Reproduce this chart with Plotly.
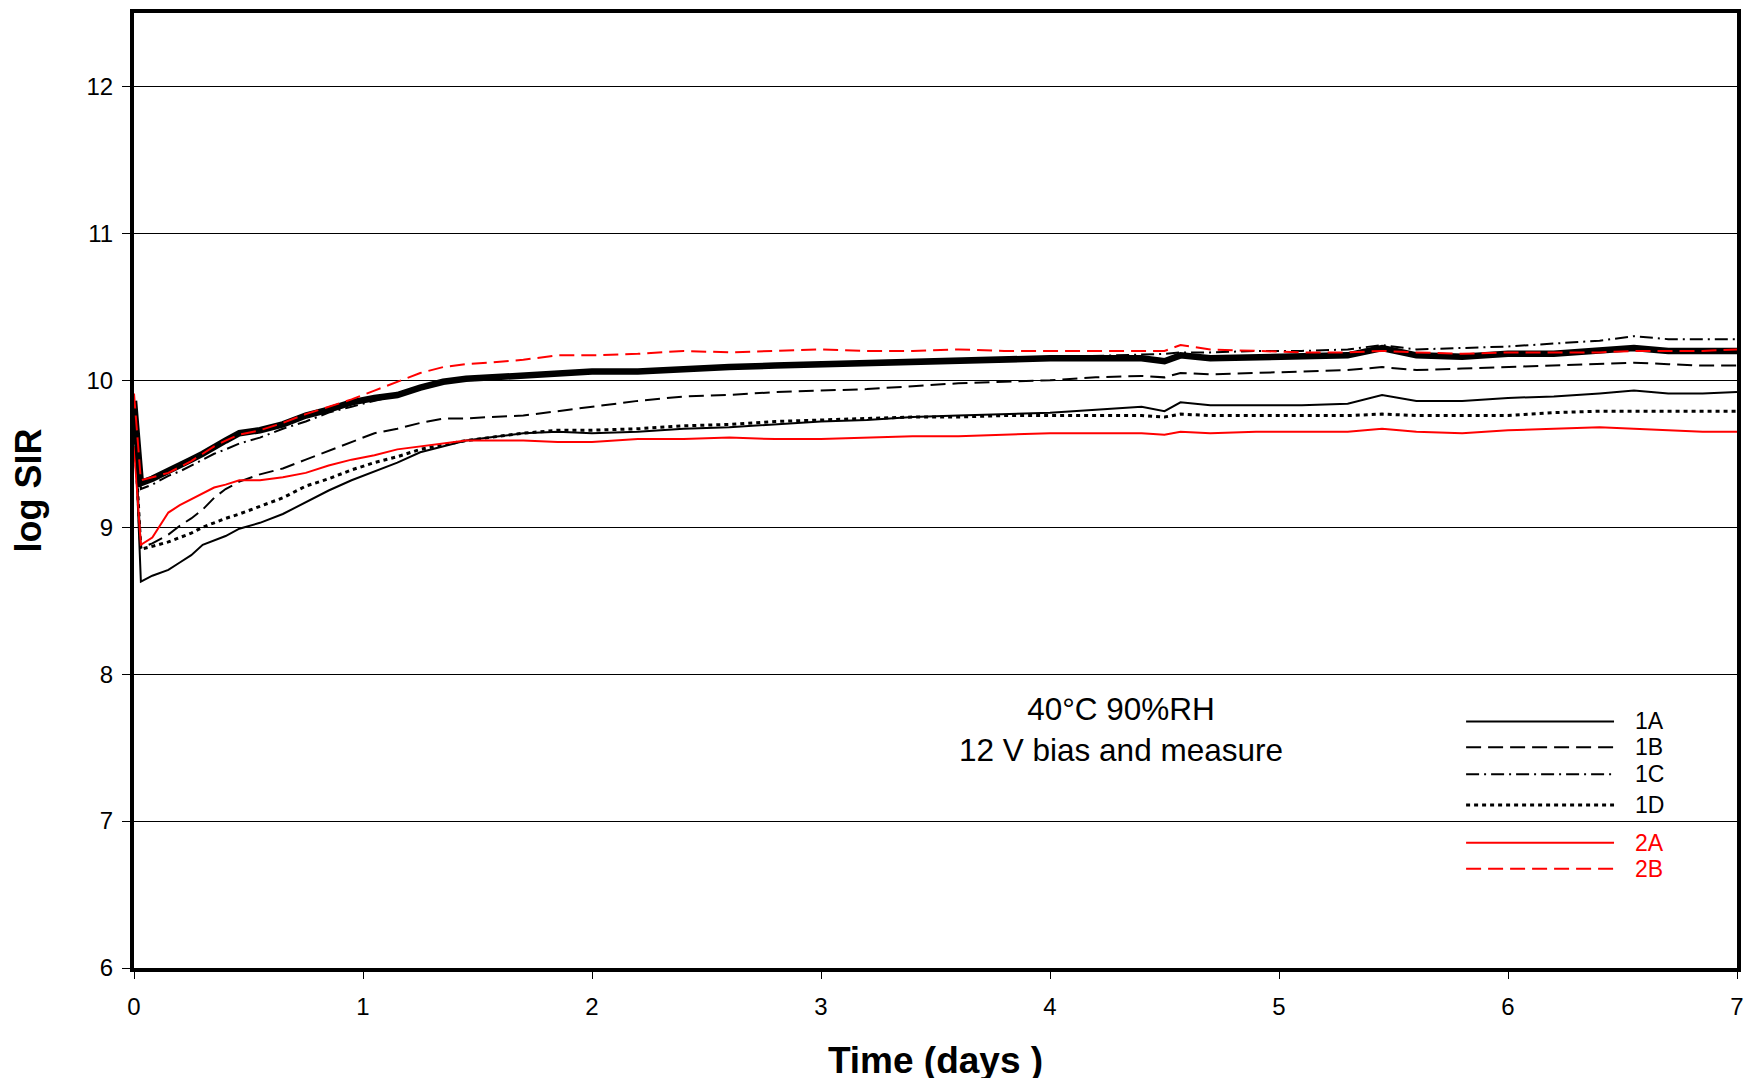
import plotly.graph_objects as go

# ---------------- data ----------------
time_days = [0, 0.03, 0.08, 0.15, 0.2, 0.25, 0.3, 0.35, 0.4, 0.46,
             0.55, 0.65, 0.75, 0.85, 0.95, 1.05, 1.15, 1.25, 1.35, 1.45,
             1.55, 1.7, 1.85, 2.0, 2.2, 2.4, 2.6, 2.8, 3.0, 3.2,
             3.4, 3.6, 3.8, 4.0, 4.2, 4.4, 4.5, 4.57, 4.7, 4.9,
             5.1, 5.3, 5.45, 5.6, 5.8, 6.0, 6.2, 6.4, 6.55, 6.7,
             6.85, 7.0]

sir_1A = [9.82, 8.63, 8.67, 8.71, 8.76, 8.81, 8.88, 8.91, 8.94, 8.99,
          9.03, 9.09, 9.17, 9.25, 9.32, 9.38, 9.44, 9.51, 9.55, 9.59,
          9.61, 9.64, 9.65, 9.64, 9.65, 9.67, 9.68, 9.70, 9.72, 9.73,
          9.75, 9.76, 9.77, 9.78, 9.80, 9.82, 9.79, 9.85, 9.83, 9.83,
          9.83, 9.84, 9.90, 9.86, 9.86, 9.88, 9.89, 9.91, 9.93, 9.91,
          9.91, 9.92]

sir_1B = [9.70, 8.86, 8.89, 8.95, 9.01, 9.06, 9.12, 9.20, 9.26, 9.31,
          9.36, 9.40, 9.46, 9.52, 9.58, 9.64, 9.67, 9.71, 9.74, 9.74,
          9.75, 9.76, 9.79, 9.82, 9.86, 9.89, 9.90, 9.92, 9.93, 9.94,
          9.96, 9.98, 9.99, 10.00, 10.02, 10.03, 10.02, 10.05, 10.04, 10.05,
          10.06, 10.07, 10.09, 10.07, 10.08, 10.09, 10.10, 10.11, 10.12, 10.11,
          10.10, 10.10]

sir_1C = [9.80, 9.26, 9.29, 9.35, 9.38, 9.42, 9.46, 9.50, 9.53, 9.57,
          9.61, 9.67, 9.72, 9.78, 9.82, 9.86, 9.90, 9.94, 9.98, 10.01,
          10.03, 10.04, 10.05, 10.06, 10.07, 10.08, 10.09, 10.10, 10.11, 10.12,
          10.13, 10.14, 10.15, 10.16, 10.17, 10.18, 10.18, 10.19, 10.19, 10.20,
          10.20, 10.21, 10.24, 10.21, 10.22, 10.23, 10.25, 10.27, 10.30, 10.28,
          10.28, 10.28]

sir_1D = [9.70, 8.85, 8.87, 8.90, 8.93, 8.96, 9.00, 9.03, 9.06, 9.09,
          9.14, 9.20, 9.28, 9.33, 9.39, 9.44, 9.48, 9.53, 9.56, 9.59,
          9.61, 9.64, 9.66, 9.66, 9.67, 9.69, 9.70, 9.72, 9.73, 9.74,
          9.75, 9.75, 9.76, 9.76, 9.76, 9.76, 9.75, 9.77, 9.76, 9.76,
          9.76, 9.76, 9.77, 9.76, 9.76, 9.76, 9.78, 9.79, 9.79, 9.79,
          9.79, 9.79]

sir_2A = [9.55, 8.88, 8.93, 9.10, 9.15, 9.19, 9.23, 9.27, 9.29, 9.32,
          9.32, 9.34, 9.37, 9.42, 9.46, 9.49, 9.53, 9.55, 9.57, 9.59,
          9.59, 9.59, 9.58, 9.58, 9.60, 9.60, 9.61, 9.60, 9.60, 9.61,
          9.62, 9.62, 9.63, 9.64, 9.64, 9.64, 9.63, 9.65, 9.64, 9.65,
          9.65, 9.65, 9.67, 9.65, 9.64, 9.66, 9.67, 9.68, 9.67, 9.66,
          9.65, 9.65]

sir_2B = [9.91, 9.32, 9.34, 9.37, 9.41, 9.45, 9.50, 9.55, 9.59, 9.63,
          9.66, 9.71, 9.77, 9.82, 9.87, 9.93, 9.99, 10.05, 10.09, 10.11,
          10.12, 10.14, 10.17, 10.17, 10.18, 10.20, 10.19, 10.20, 10.21, 10.20,
          10.20, 10.21, 10.20, 10.20, 10.20, 10.20, 10.20, 10.24, 10.21, 10.20,
          10.19, 10.19, 10.20, 10.19, 10.18, 10.19, 10.19, 10.19, 10.20, 10.20,
          10.20, 10.21]

# unlabeled heavy black curve
sir_bold = [9.86, 9.30, 9.33, 9.38, 9.42, 9.46, 9.50, 9.55, 9.59, 9.64,
            9.66, 9.70, 9.76, 9.80, 9.85, 9.88, 9.90, 9.95, 9.99, 10.01,
            10.02, 10.04, 10.05, 10.06, 10.06, 10.08, 10.09, 10.10, 10.11, 10.12,
            10.13, 10.14, 10.14, 10.15, 10.15, 10.15, 10.13, 10.17, 10.15, 10.16,
            10.17, 10.17, 10.22, 10.17, 10.16, 10.18, 10.18, 10.20, 10.22, 10.20,
            10.20, 10.20]

x_ticks = [0, 1, 2, 3, 4, 5, 6, 7]
y_ticks = [6, 7, 8, 9, 10, 11, 12]
legend_labels = ["1A", "1B", "1C", "1D", "2A", "2B"]
condition_text = ["40°C 90%RH", "12 V bias and measure"]

# ---------------- styles ----------------
FONT = "Liberation Sans, Arial, sans-serif"
RED = "#ff0000"
styles = {
    "1A": dict(color="black", width=2, dash="solid"),
    "1B": dict(color="black", width=2, dash="15px,7px"),
    "1C": dict(color="black", width=2, dash="13px,5px,2px,5px"),
    "1D": dict(color="black", width=3, dash="4px,4px"),
    "2A": dict(color=RED, width=2, dash="solid"),
    "2B": dict(color=RED, width=2, dash="15px,7px"),
}
series = {"1A": sir_1A, "1B": sir_1B, "1C": sir_1C, "1D": sir_1D,
          "2A": sir_2A, "2B": sir_2B}

fig = go.Figure()
for name in ["1A", "1D", "1B", "2A", "1C"]:
    fig.add_trace(go.Scatter(x=time_days, y=series[name], mode="lines",
                             name=name, line=styles[name], showlegend=False))
fig.add_trace(go.Scatter(x=time_days, y=sir_bold, mode="lines", name="bold",
                         line=dict(color="black", width=6.5), showlegend=False))
fig.add_trace(go.Scatter(x=time_days, y=sir_2B, mode="lines", name="2B",
                         line=styles["2B"], showlegend=False))

# ---------------- manual legend (long line samples) ----------------
leg_x0, leg_x1, leg_tx = 5.817, 6.463, 6.546
leg_rows = [7.678, 7.502, 7.319, 7.110, 6.852, 6.676]
for lab, yy in zip(legend_labels, leg_rows):
    st = styles[lab]
    fig.add_shape(type="line", xref="x", yref="y", x0=leg_x0, x1=leg_x1,
                  y0=yy, y1=yy, line=dict(color=st["color"], width=st["width"],
                                          dash=st["dash"]))
    fig.add_annotation(x=leg_tx, y=yy, xref="x", yref="y", text=lab,
                       showarrow=False, xanchor="left", yanchor="middle",
                       font=dict(family=FONT, size=23, color=st["color"]))

fig.add_annotation(x=4.31, y=7.62, xref="x", yref="y",
                   text="<br>".join(condition_text), showarrow=False,
                   xanchor="center", yanchor="middle", align="center",
                   font=dict(family=FONT, size=31.5, color="black"))

# the page body keeps an 8px default margin, so margins are offset by it
fig.update_layout(
    width=1754, height=1078,
    margin=dict(l=126, r=25, t=1, b=118),
    paper_bgcolor="white", plot_bgcolor="white",
    font=dict(family=FONT, color="black"),
    showlegend=False,
)
fig.update_xaxes(range=[0, 7], tickvals=x_ticks, showgrid=False,
                 showline=True, mirror=True, linecolor="black", linewidth=4,
                 ticks="outside", ticklen=7, tickwidth=1, tickcolor="black",
                 tickfont=dict(family=FONT, size=24), ticklabelstandoff=7,
                 zeroline=False,
                 title=dict(text="<b>Time (days )</b>", standoff=29,
                            font=dict(family=FONT, size=37)))
fig.update_yaxes(range=[6, 12.5], tickvals=y_ticks, showgrid=True,
                 gridcolor="black", gridwidth=1,
                 showline=True, mirror=True, linecolor="black", linewidth=4,
                 ticks="outside", ticklen=8, tickwidth=1, tickcolor="black",
                 tickfont=dict(family=FONT, size=24), ticklabelstandoff=4,
                 zeroline=False,
                 title=dict(text="<b>log SIR</b>", standoff=36,
                            font=dict(family=FONT, size=36)))

fig.write_html("out.html")
